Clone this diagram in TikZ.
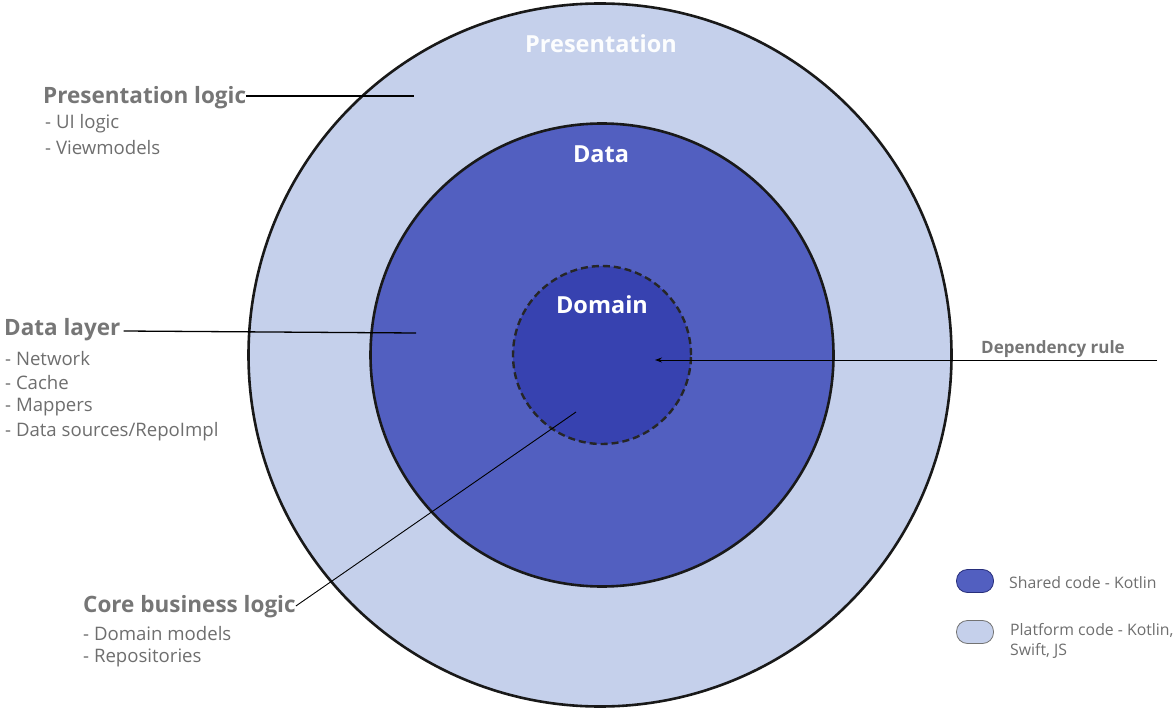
\documentclass[tikz,border=0pt]{standalone}
\usepackage{fontspec}
\setmainfont{Open Sans}
\usetikzlibrary{arrows.meta}
\definecolor{outerc}{HTML}{C5D0EB}
\definecolor{midc}{HTML}{525FC0}
\definecolor{innerc}{HTML}{3742B0}
\definecolor{txtgray}{HTML}{767676}
\definecolor{subgray}{HTML}{6E6E6E}
\tikzset{
  ring/.style={circle, draw=black!90, line width=2.6pt, inner sep=0pt},
  ringlabel/.style={text=white, font=\fontsize{23.5}{28}\selectfont\bfseries, inner sep=0pt},
  heading/.style={text=txtgray, font=\fontsize{22.5}{27}\selectfont\bfseries, anchor=west, inner sep=0pt},
  item/.style={text=subgray, font=\fontsize{18.6}{22}\selectfont, anchor=west, inner sep=0pt},
  leader/.style={draw=black, line width=1.3pt},
  thinleader/.style={draw=black, line width=0.9pt},
  legtext/.style={text=subgray, font=\fontsize{15.8}{19.5}\selectfont, anchor=west, inner sep=0pt, align=left},
  pill/.style={rounded corners=11pt, minimum width=37pt, minimum height=23pt, inner sep=0pt}
}
\begin{document}
\begin{tikzpicture}[x=1pt,y=-1pt]
\useasboundingbox (0,0) rectangle (1175,711);
% circles
\node[ring, fill=outerc, minimum size=703pt] (outer) at (600,355) {};
\node[ring, fill=midc, minimum size=463pt] (mid) at (602,355) {};
\node[circle, fill=innerc, draw=black!85, dashed, dash pattern=on 7pt off 4pt, line width=2.4pt, minimum size=178pt, inner sep=0pt] (inner) at (602,355) {};
% circle labels
\node[ringlabel, text=white!95!outerc] (lpres) at (601,44) {Presentation};
\node[ringlabel] (ldata) at (601,154) {Data};
\node[ringlabel] (ldom) at (602,305) {Domain};
% Presentation logic
\node[heading] (hpres) at (43,98) {Presentation logic};
\node[item] (p1) at (45,124) {- UI logic};
\node[item] (p2) at (45,148) {- Viewmodels};
\coordinate (epres) at (414,96);
\draw[leader] ([yshift=2pt]hpres.east) -- (epres);
% Data layer
\node[heading] (hdata) at (4,330) {Data layer};
\node[item] (d1) at (5,359) {- Network};
\node[item] (d2) at (5,383) {- Cache};
\node[item] (d3) at (5,407) {- Mappers};
\node[item] (d4) at (5,432) {- Data sources/RepoImpl};
\coordinate (edata) at (416,333);
\draw[leader] ([xshift=3pt,yshift=-1pt]hdata.east) -- (edata);
% Core business logic
\node[heading] (hcore) at (83,607) {Core business logic};
\node[item] (c1) at (83,634) {- Domain models};
\node[item] (c2) at (83,658) {- Repositories};
\coordinate (ecore) at (576,412);
\draw[thinleader] ([yshift=1pt]hcore.east) -- (ecore);
% Dependency rule
\coordinate (dstart) at (1157,360);
\coordinate (dtip) at (655,360);
\node[text=txtgray, font=\fontsize{17}{20}\selectfont\bfseries, inner sep=0pt] (dep) at (1053,349) {Dependency rule};
\draw[thinleader, -{Stealth[length=7pt,width=5pt]}] (dstart) -- (dtip);
% Legend
\node[pill, fill=midc, draw=innerc!70!black, line width=0.8pt] (pshared) at (975,581) {};
\node[legtext] (tshared) at (1009,583) {Shared code - Kotlin};
\node[pill, fill=outerc, draw=black!55, line width=0.8pt] (pplat) at (975,632) {};
\node[legtext] (tplat) at (1010,641) {Platform code - Kotlin,\\Swift, JS};
\end{tikzpicture}
\end{document}
